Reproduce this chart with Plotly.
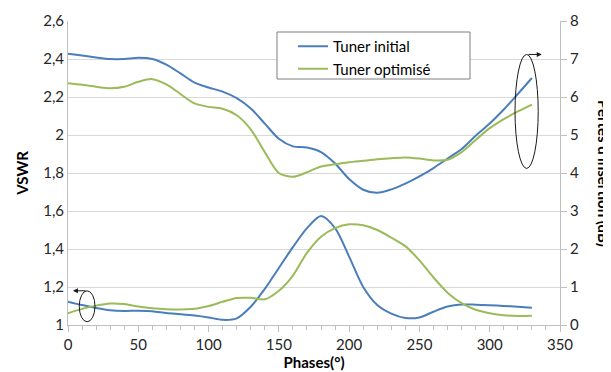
import plotly.graph_objects as go

phases = list(range(0, 331, 10))

vswr_initial = [1.123, 1.105, 1.09, 1.078, 1.074, 1.075, 1.073, 1.063, 1.057, 1.05,
                1.04, 1.027, 1.035, 1.096, 1.19, 1.30, 1.41, 1.51, 1.574, 1.51,
                1.36, 1.20, 1.105, 1.06, 1.037, 1.04, 1.07, 1.097, 1.108, 1.107,
                1.104, 1.10, 1.096, 1.091]
vswr_optimise = [1.062, 1.085, 1.102, 1.113, 1.11, 1.097, 1.088, 1.083, 1.082, 1.085,
                 1.10, 1.122, 1.142, 1.143, 1.135, 1.18, 1.26, 1.38, 1.465, 1.51,
                 1.53, 1.525, 1.50, 1.46, 1.415, 1.34, 1.25, 1.17, 1.115, 1.08,
                 1.062, 1.051, 1.048, 1.049]
pertes_initial = [7.14, 7.09, 7.04, 7.0, 7.0, 7.03, 7.0, 6.85, 6.62, 6.38,
                  6.25, 6.14, 5.97, 5.7, 5.3, 4.9, 4.7, 4.67, 4.55, 4.25,
                  3.84, 3.56, 3.48, 3.57, 3.72, 3.91, 4.13, 4.38, 4.63, 4.98,
                  5.3, 5.67, 6.08, 6.5]
pertes_optimise = [6.36, 6.32, 6.27, 6.23, 6.27, 6.4, 6.47, 6.33, 6.08, 5.83,
                   5.74, 5.69, 5.52, 5.15, 4.55, 4.0, 3.9, 4.02, 4.17, 4.23,
                   4.28, 4.32, 4.36, 4.39, 4.41, 4.38, 4.33, 4.35, 4.55, 4.87,
                   5.18, 5.42, 5.62, 5.8]

BLUE = "#4a7ebb"
GREEN = "#9bbb59"
FONT = "Lato"

# The page body has an 8px margin, so the figure is 8px smaller and
# its margins are reduced accordingly to match the reference layout.
OFF = 8
PL, PT, PR, PB = 68, 21, 560, 325   # plot area in page pixels
PW, PH = PR - PL, PB - PT

fig = go.Figure()
line_kw = dict(shape="spline", smoothing=0.8, width=2)
fig.add_trace(go.Scatter(x=phases, y=pertes_initial, yaxis="y2", mode="lines",
                         line=dict(color=BLUE, **line_kw), name="Tuner initial"))
fig.add_trace(go.Scatter(x=phases, y=pertes_optimise, yaxis="y2", mode="lines",
                         line=dict(color=GREEN, **line_kw), name="Tuner optimisé"))
fig.add_trace(go.Scatter(x=phases, y=vswr_initial, mode="lines", showlegend=False,
                         line=dict(color=BLUE, **line_kw), name="Tuner initial"))
fig.add_trace(go.Scatter(x=phases, y=vswr_optimise, mode="lines", showlegend=False,
                         line=dict(color=GREEN, **line_kw), name="Tuner optimisé"))

axis_font = dict(family=FONT, size=15, color="#262626")
fig.update_layout(
    width=611 - OFF, height=372 - OFF,
    margin=dict(l=PL - OFF, r=611 - PR, t=PT - OFF, b=372 - PB, autoexpand=False),
    plot_bgcolor="white", paper_bgcolor="white",
    separators=", ",
    font=dict(family=FONT, size=15, color="#262626"),
    xaxis=dict(range=[0, 350], dtick=50, tick0=0, showgrid=False, zeroline=False,
               showline=True, linecolor="#bfbfbf", linewidth=1, automargin=False,
               ticks="outside", ticklen=6, tickcolor="#bfbfbf",
               minor=dict(dtick=10, ticks="outside", ticklen=4, tickcolor="#bfbfbf"),
               tickfont=axis_font,
               title=dict(text="<b>Phases(°)</b>", font=dict(family=FONT, size=15, color="#000"), standoff=0)),
    yaxis=dict(range=[1, 2.6], dtick=0.2, tick0=1, showgrid=True, gridcolor="#d9d9d9",
               zeroline=False, showline=True, linecolor="#bfbfbf", ticks="", automargin=False,
               tickfont=axis_font,
               title=dict(text="<b>VSWR</b>", font=dict(family=FONT, size=15, color="#000"), standoff=10)),
    yaxis2=dict(range=[0, 8], dtick=1, tick0=0, overlaying="y", side="right", automargin=False,
                showgrid=False, zeroline=False, showline=True, linecolor="#bfbfbf",
                ticks="outside", ticklen=6, tickcolor="#bfbfbf", tickfont=axis_font),
    legend=dict(x=(293 - PL) / PW, y=1 - (30 - PT) / PH, xanchor="left", yanchor="top",
                bgcolor="rgba(0,0,0,0)", borderwidth=0,
                font=dict(family=FONT, size=15, color="#000"),
                itemwidth=30, tracegroupgap=0),
    showlegend=True,
)

# legend frame
fig.add_shape(type="rect", xref="paper", yref="paper",
              x0=(277 - PL) / PW, x1=(470 - PL) / PW,
              y0=1 - (79 - PT) / PH, y1=1 - (32 - PT) / PH,
              line=dict(color="#7f7f7f", width=1), fillcolor="white", layer="above")

# ellipses marking the axis of each curve group
fig.add_shape(type="circle", xref="x", yref="y", x0=8, x1=19.2, y0=1.017, y1=1.18,
              line=dict(color="#1a1a1a", width=1))
fig.add_shape(type="circle", xref="x", yref="y2", x0=318, x1=334.5, y0=4.12, y1=7.12,
              line=dict(color="#1a1a1a", width=1))
fig.add_annotation(x=3.5, y=1.18, ax=13.5, ay=1.18, xref="x", yref="y", axref="x", ayref="y",
                   showarrow=True, arrowhead=2, arrowsize=1, arrowwidth=1, arrowcolor="#1a1a1a", text="")
fig.add_annotation(x=337, y=7.12, ax=326.5, ay=7.12, xref="x", yref="y2", axref="x", ayref="y2",
                   showarrow=True, arrowhead=2, arrowsize=1, arrowwidth=1, arrowcolor="#1a1a1a", text="")

# right axis title (rotated, partially outside the page like the original)
fig.add_annotation(text="<b>Pertes d'insertion (dB)</b>", xref="paper", yref="paper",
                   x=(604 - PL) / PW, y=0.5, xanchor="center", yanchor="middle",
                   textangle=90, showarrow=False,
                   font=dict(family=FONT, size=15, color="#000"))

fig.write_html("out.html")
